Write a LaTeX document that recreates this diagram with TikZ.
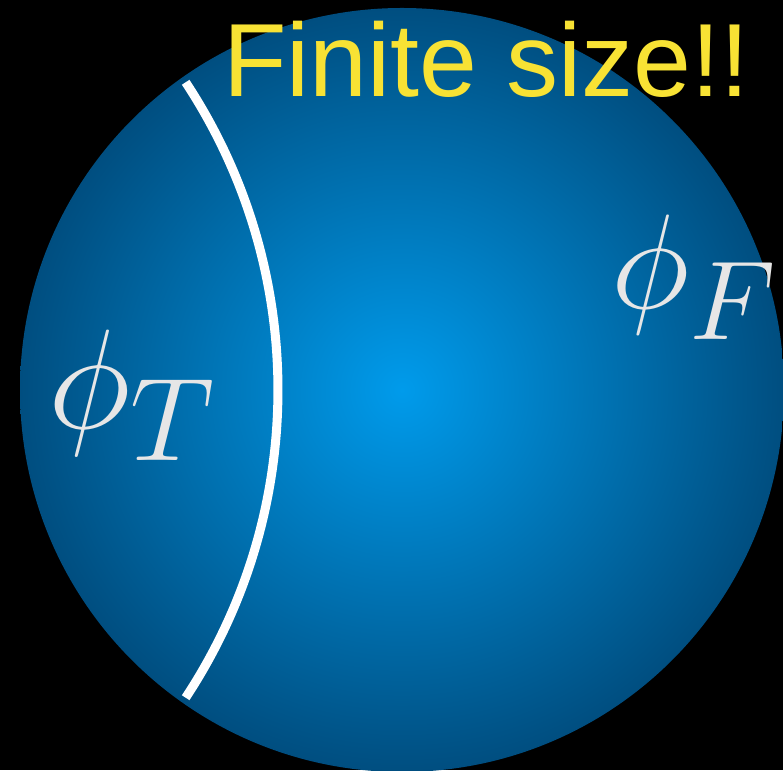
\documentclass[tikz,border=0pt]{standalone}
\usepackage{fontspec}
\setmainfont{Liberation Sans}
\usepackage{tikz}
\usetikzlibrary{positioning,calc}

\definecolor{spherecore}{RGB}{0,155,235}
\definecolor{sphererim}{RGB}{0,78,128}
\definecolor{labelgray}{RGB}{230,230,230}
\definecolor{titleyellow}{RGB}{248,226,52}

\newcommand{\phasesub}[1]{\phi_{\raisebox{1.6pt}{$\scriptstyle #1$}}}

\begin{document}
\begin{tikzpicture}[
  x=1pt, y=1pt,
  sphere/.style={inner color=spherecore, outer color=sphererim},
  wall/.style={draw=white, line width=9pt},
  phase/.style={text=labelgray, inner sep=0pt, anchor=base west, scale=5.7, font=\Huge},
  headline/.style={text=titleyellow, inner sep=0pt, anchor=base west,
    font=\fontsize{104}{104}\selectfont}
]

% ---------- Background ----------
\fill[black] (0,0) rectangle (783,770);
\useasboundingbox (0,0) rectangle (783,770);

% ---------- Sphere ----------
\shade[sphere] (402,380) circle (382);

% ---------- Domain wall ----------
\coordinate (wallc) at (-281,380);
\draw[wall] ($(wallc)+(33.4:559)$) arc (33.4:-33.4:559);

% ---------- Labels ----------
\node[phase] (phit) at (47,341) {$\phasesub{T}$};
\node[phase, scale=0.95] (phif) at (610,461) {$\phasesub{F}$};
\node[headline] (title) at (223,673) {Finite size!!};

\end{tikzpicture}
\end{document}
